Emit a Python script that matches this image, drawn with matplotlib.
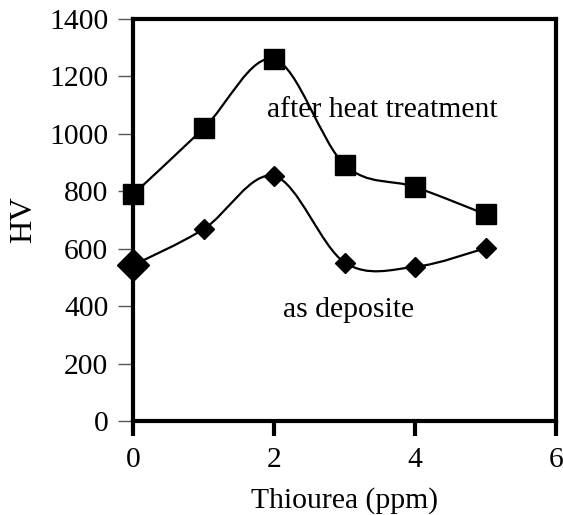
import numpy as np
import matplotlib.pyplot as plt
from matplotlib.path import Path
from matplotlib.patches import PathPatch

plt.rcParams['font.family'] = ['Liberation Serif', 'DejaVu Serif']

# data
thiourea = [0, 1, 2, 3, 4, 5]
hv_heat = [790, 1020, 1260, 892, 815, 720]
hv_depo = [543, 669, 853, 552, 537, 602]
x_ticks = [0, 2, 4, 6]
y_ticks = [0, 200, 400, 600, 800, 1000, 1200, 1400]


def smooth_path(xs, ys):
    # bezier through every point, control points like a Catmull-Rom spline
    pts = np.column_stack([xs, ys]).astype(float)
    n = len(pts)
    verts = [pts[0]]
    codes = [Path.MOVETO]
    for i in range(n - 1):
        p0 = pts[i - 1] if i > 0 else pts[i]
        p1 = pts[i]
        p2 = pts[i + 1]
        p3 = pts[i + 2] if i + 2 < n else pts[i + 1]
        c1 = p1 + (p2 - p0) / 6.0
        c2 = p2 - (p3 - p1) / 6.0
        verts += [c1, c2, p2]
        codes += [Path.CURVE4] * 3
    return Path(verts, codes)


fs = 21.3
fig = plt.figure(figsize=(5.63, 5.15), dpi=100)
ax = fig.add_axes([0.237, 0.1825, 0.7506, 0.7806])

for ys in (hv_heat, hv_depo):
    ax.add_patch(PathPatch(smooth_path(thiourea, ys), facecolor='none',
                           edgecolor='black', lw=1.6, zorder=3))

ax.plot(thiourea, hv_heat, ls='none', marker='s', ms=14, color='black',
        clip_on=False, zorder=5)
ax.plot(thiourea[1:], hv_depo[1:], ls='none', marker='D', ms=10, color='black',
        clip_on=False, zorder=5)
ax.plot(thiourea[:1], hv_depo[:1], ls='none', marker='D', ms=16, color='black',
        clip_on=False, zorder=5)

ax.text(1.9, 1083, 'after heat treatment', fontsize=fs, va='center', ha='left')
ax.text(2.12, 387, 'as deposite', fontsize=fs, va='center', ha='left')

ax.set_xlim(0, 6)
ax.set_ylim(0, 1400)
ax.set_xticks(x_ticks)
ax.set_yticks(y_ticks)
ax.tick_params(axis='x', direction='out', length=11, width=3, labelsize=fs, pad=8)
ax.tick_params(axis='y', direction='out', length=11, width=1, color='#555555',
               labelsize=fs, pad=7)
for s in ax.spines.values():
    s.set_linewidth(3)
ax.set_xlabel('Thiourea (ppm)', fontsize=fs, labelpad=10)
ax.set_ylabel('HV', fontsize=fs + 2, labelpad=8)

plt.savefig('out.png', dpi=100)
